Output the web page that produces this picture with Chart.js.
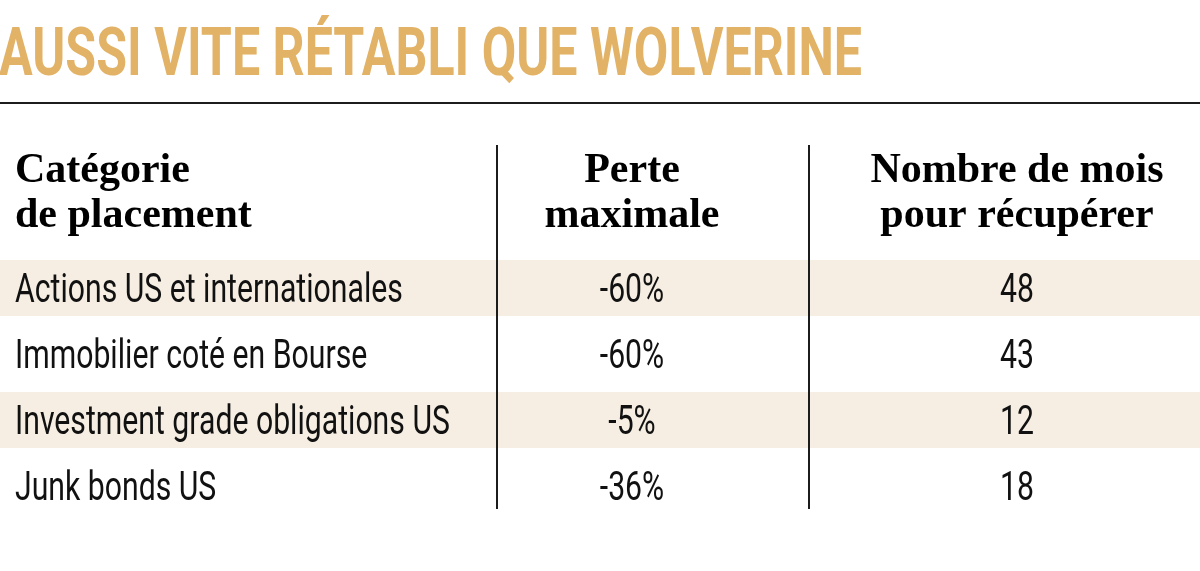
<!DOCTYPE html>
<html lang="fr">
<head>
<meta charset="utf-8">
<title>Aussi vite rétabli que Wolverine</title>
<script src="https://cdn.jsdelivr.net/npm/chart.js@4/dist/chart.umd.min.js"></script>
<style>
  html, body { margin: 0; padding: 0; background: #fff; }
  canvas { display: block; }
</style>
</head>
<body>
<canvas id="table-canvas" width="1200" height="571"></canvas>
<script>
// Données du tableau
const title = 'AUSSI VITE RÉTABLI QUE WOLVERINE';
const headerCategory = ['Catégorie', 'de placement'];
const headerLoss = ['Perte', 'maximale'];
const headerMonths = ['Nombre de mois', 'pour récupérer'];
const categories = [
    'Actions US et internationales',
    'Immobilier coté en Bourse',
    'Investment grade obligations US',
    'Junk bonds US'
];
const maxLoss = ['-60%', '-60%', '-5%', '-36%'];
const monthsToRecover = [48, 43, 12, 18];

// Couleurs
const GOLD = '#e2b266';
const STRIPE = '#f6eee2';
const INK = '#111111';

// Mise en page (pixels)
const COL_LEFT = 15;
const COL_LOSS = 632;
const COL_MONTHS = 1017;
const RULES_X = [497, 809];

// Dessine titre, en-têtes, séparateurs et textes des cellules
const tablePlugin = {
    id: 'tableText',
    beforeDatasetsDraw(chart) {
        const ctx = chart.ctx;
        const w = chart.width;
        ctx.save();

        // Titre condensé
        ctx.font = 'bold 67px Roboto';
        ctx.fillStyle = GOLD;
        ctx.textBaseline = 'alphabetic';
        const tw = ctx.measureText(title).width;
        ctx.save();
        ctx.translate(-1, 75);
        ctx.scale(863 / tw, 1);
        ctx.fillText(title, 0, 0);
        ctx.restore();

        // Filet horizontal sous le titre
        ctx.fillStyle = '#1c1c1c';
        ctx.fillRect(0, 102, w, 2);
        ctx.restore();
    },
    afterDatasetsDraw(chart) {
        const ctx = chart.ctx;
        const y = chart.scales.y;
        ctx.save();

        // En-têtes
        ctx.fillStyle = '#000';
        ctx.font = 'bold 42px "Liberation Serif"';
        ctx.textBaseline = 'alphabetic';
        [182, 227].forEach((base, i) => {
            ctx.textAlign = 'left';
            ctx.fillText(headerCategory[i], COL_LEFT, base);
            ctx.textAlign = 'center';
            ctx.fillText(headerLoss[i], COL_LOSS, base);
            ctx.fillText(headerMonths[i], COL_MONTHS, base);
        });

        // Séparateurs verticaux
        ctx.fillStyle = '#1c1c1c';
        RULES_X.forEach(x => ctx.fillRect(x - 1, 145, 2, 364));

        // Cellules
        const size = 40;
        const squeeze = 0.755;
        ctx.font = size + 'px Roboto';
        ctx.fillStyle = INK;
        const drawCell = (text, x, base, align) => {
            ctx.save();
            ctx.translate(x, base);
            ctx.scale(squeeze, 1);
            ctx.textAlign = align;
            ctx.fillText(String(text), 0, 0);
            ctx.restore();
        };
        categories.forEach((cat, i) => {
            const base = y.getPixelForValue(i) + size * 0.36;
            drawCell(cat, COL_LEFT, base, 'left');
            drawCell(maxLoss[i], COL_LOSS, base, 'center');
            drawCell(monthsToRecover[i], COL_MONTHS, base, 'center');
        });

        ctx.restore();
    }
};

new Chart(document.getElementById('table-canvas'), {
    type: 'bar',
    data: {
        labels: categories,
        datasets: [{
            // une bande par ligne, une sur deux colorée
            data: categories.map(() => 1),
            backgroundColor: categories.map((_, i) => i % 2 === 0 ? STRIPE : '#ffffff'),
            borderWidth: 0,
            barPercentage: 0.85,
            categoryPercentage: 1
        }]
    },
    options: {
        indexAxis: 'y',
        responsive: false,
        animation: false,
        devicePixelRatio: 1,
        layout: { padding: { top: 255, bottom: 52, left: 0, right: 0 } },
        scales: {
            x: { display: false, min: 0, max: 1 },
            y: { display: false }
        },
        plugins: {
            legend: { display: false },
            tooltip: { enabled: false },
            title: { display: false }
        }
    },
    plugins: [tablePlugin]
});
</script>
</body>
</html>
